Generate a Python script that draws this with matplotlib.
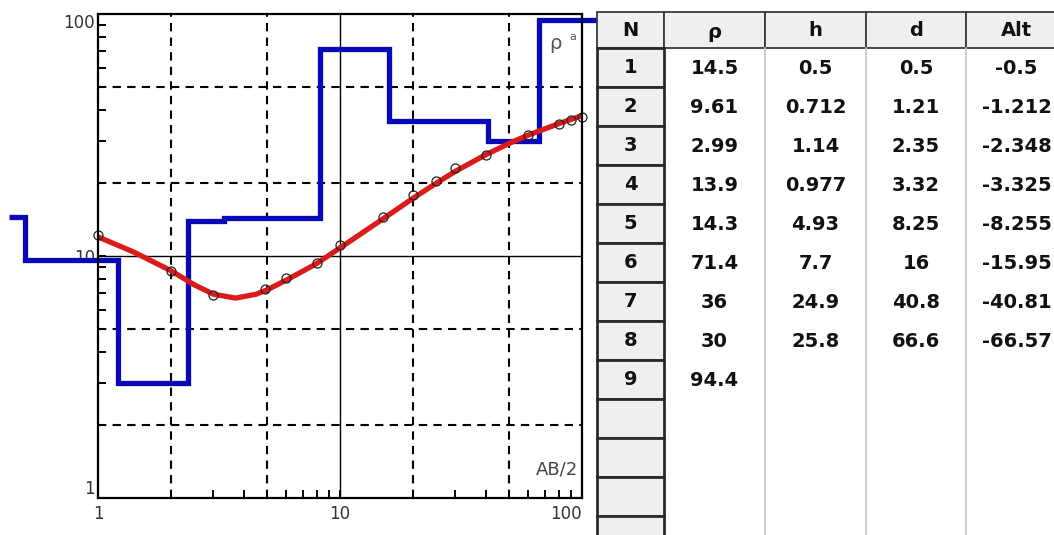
import matplotlib
matplotlib.use("Agg")
import matplotlib.pyplot as plt
from matplotlib.patches import Rectangle
from matplotlib.ticker import FixedLocator, FixedFormatter, LogLocator, NullFormatter

# layered model (table values)
layer_n = [1, 2, 3, 4, 5, 6, 7, 8, 9]
layer_rho = [14.5, 9.61, 2.99, 13.9, 14.3, 71.4, 36, 30, 94.4]
layer_h = [0.5, 0.712, 1.14, 0.977, 4.93, 7.7, 24.9, 25.8]
layer_d = [0.5, 1.21, 2.35, 3.32, 8.25, 16, 40.8, 66.6]
layer_alt = [-0.5, -1.212, -2.348, -3.325, -8.255, -15.95, -40.81, -66.57]
model_start, model_end = 0.43, 118  # how far the step line runs past the axes

# field data: AB/2 vs apparent resistivity
ab2 = [1, 2, 3, 4.9, 6, 8, 10, 15, 20, 25, 30, 40, 60, 80, 90, 100]
rho_obs = [12.2, 8.7, 6.9, 7.3, 8.1, 9.4, 11.1, 14.5, 17.8, 20.4, 23.0, 26.1, 31.6, 35.2, 36.4, 37.6]

# fitted curve
fit_x = [1.0, 1.4, 2.0, 2.5, 3.0, 3.7, 4.5, 5.0, 6.0, 8.0, 10, 15, 20, 25, 30, 40, 50, 60, 80, 100]
fit_y = [12.0, 10.4, 8.7, 7.6, 6.95, 6.7, 6.95, 7.25, 7.95, 9.3, 10.8, 14.2, 17.3, 20.0, 22.4, 26.2, 29.2, 31.6, 35.2, 38.0]

headers = ["N", "ρ", "h", "d", "Alt"]
n_rows = 13

blue = "#0808B8"
red = "#DC1A1A"

fig = plt.figure(figsize=(10.54, 5.35), dpi=100)
W, H = 1054, 535
ax = fig.add_axes([98 / W, 37 / H, 484 / W, 484 / H])
ax.set_xscale("log")
ax.set_yscale("log")
ax.set_xlim(1, 100)
ax.set_ylim(1, 100)

# grid: solid at decades, dashed at 2 and 5
for v in [10]:
    ax.axvline(v, color="black", lw=1.0, zorder=1)
    ax.axhline(v, color="black", lw=1.0, zorder=1)
for v in [2, 5, 20, 50]:
    ax.axvline(v, color="black", lw=1.5, dashes=(4, 3), zorder=1)
    ax.axhline(v, color="black", lw=1.5, dashes=(4, 3), zorder=1)

edges = [model_start] + layer_d + [model_end]
ax.stairs(layer_rho, edges, baseline=None, color=blue, lw=3.8, clip_on=False, zorder=3)

ax.plot(fit_x, fit_y, color=red, lw=3.8, solid_capstyle="round", zorder=4)
ax.plot(ab2, rho_obs, "o", ms=6.5, mfc="none", mec="#222222", mew=0.9, zorder=5, clip_on=False)

for s in ax.spines.values():
    s.set_linewidth(1.6)
    s.set_zorder(6)

ax.xaxis.set_major_locator(FixedLocator([1, 10, 100]))
ax.xaxis.set_major_formatter(FixedFormatter(["1", "10", "100"]))
ax.yaxis.set_major_locator(FixedLocator([1, 10, 100]))
ax.yaxis.set_major_formatter(FixedFormatter(["1", "10", "100"]))
for axis in (ax.xaxis, ax.yaxis):
    axis.set_minor_locator(LogLocator(base=10, subs=range(2, 10)))
    axis.set_minor_formatter(NullFormatter())
ax.tick_params(which="both", direction="in", length=6, width=1.4, colors="black",
               labelcolor="#333333", labelsize=12)
ax.tick_params(axis="x", pad=5)
ax.tick_params(axis="y", pad=2)
xl = ax.get_xticklabels()
xl[2].set_ha("right")
yl = ax.get_yticklabels()
yl[0].set_va("bottom")
yl[2].set_va("top")

ax.text(0.945, 0.94, "ρ", transform=ax.transAxes, fontsize=14, color="#555555", ha="center", va="center")
ax.text(0.982, 0.953, "a", transform=ax.transAxes, fontsize=8, color="#555555", ha="center", va="center")
ax.text(0.992, 0.04, "AB/2", transform=ax.transAxes, fontsize=13, color="#444444", ha="right", va="bottom")

# table drawn in pixel units on an overlay
tax = fig.add_axes([0, 0, 1, 1])
tax.set_xlim(0, W)
tax.set_ylim(H, 0)
tax.axis("off")
tax.set_zorder(10)

col_edges = [597, 664, 765, 866, 966, 1067]
top, head_bot, row_h = 12, 48, 39

tax.add_patch(Rectangle((col_edges[0], top), col_edges[-1] - col_edges[0], H + 40,
                        facecolor="white", edgecolor="none"))
for x in col_edges[2:5]:
    tax.plot([x, x], [head_bot, H + 5], color="#C4C4C4", lw=1.2)

for i, name in enumerate(headers):
    x0, x1 = col_edges[i], col_edges[i + 1]
    tax.add_patch(Rectangle((x0, top), x1 - x0, head_bot - top, facecolor="#EFEFEF",
                            edgecolor="#3A3A3A", lw=1.3))
    dy = 3 if name == "ρ" else 0
    tax.text((x0 + x1) / 2, (top + head_bot) / 2 + dy, name, fontsize=14, fontweight="bold",
             ha="center", va="center", color="#111111")

x0, x1 = col_edges[0], col_edges[1]
for r in range(n_rows):
    y0 = head_bot + r * row_h
    tax.add_patch(Rectangle((x0, y0), x1 - x0, row_h, facecolor="#EFEFEF",
                            edgecolor="#2A2A2A", lw=2.0))
    if r < len(layer_n):
        tax.text((x0 + x1) / 2, y0 + row_h / 2, str(layer_n[r]), fontsize=14,
                 fontweight="bold", ha="center", va="center", color="#111111")

columns = [layer_rho, layer_h, layer_d, layer_alt]
for c, vals in enumerate(columns):
    cx = (col_edges[c + 1] + col_edges[c + 2]) / 2
    for r, v in enumerate(vals):
        tax.text(cx, head_bot + r * row_h + row_h / 2 + 1, f"{v:g}", fontsize=14,
                 fontweight="bold", ha="center", va="center", color="#111111")

fig.savefig("out.png", dpi=100)
